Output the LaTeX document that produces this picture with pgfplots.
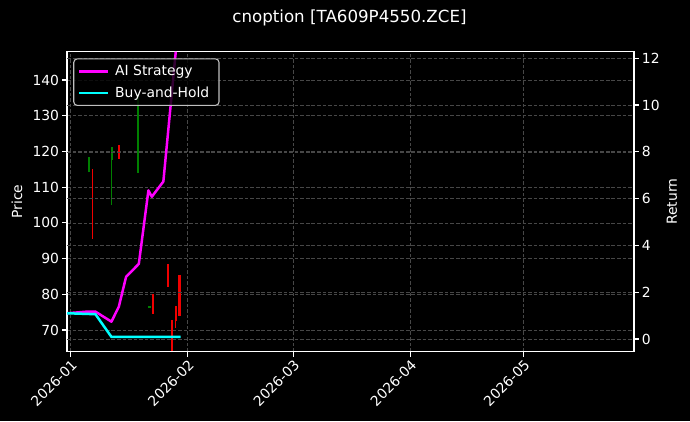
\documentclass[border=0pt]{standalone}
\usepackage{pgfplots}
\pgfplotsset{compat=1.18}
\usepackage{fontspec}
\setmainfont{DejaVu Sans}
\definecolor{gridc}{gray}{0.28}
\definecolor{candlegreen}{HTML}{008000}
\definecolor{candlered}{HTML}{F00000}
\definecolor{legedge}{gray}{0.75}
\definecolor{aimag}{RGB}{255,0,255}
\definecolor{bhcyan}{RGB}{0,255,255}
\begin{document}
\begin{tikzpicture}
\fill[black] (0,0) rectangle (496.8pt,303.12pt);
\useasboundingbox (0,0) rectangle (496.8pt,303.12pt);
\pgfplotsset{
  myaxis/.style={
    at={(48.24pt,49.90pt)}, anchor=south west,
    scale only axis, width=408.24pt, height=216pt,
    xmin=-0.93, xmax=149.3,
    tick align=outside, major tick length=3.5pt,
    axis line style={white, line width=0.8pt},
    tick style={white, line width=0.8pt},
    major grid style={gridc, line width=0.45pt, dash pattern=on 2.6pt off 1.4pt},
    ticklabel style={font=\fontsize{10}{12}\selectfont, text=white},
    /pgf/number format/assume math mode=true,
    unbounded coords=jump,
    clip=true,
  }
}
% price axis (candles)
\begin{axis}[myaxis,
  ymin=63.92, ymax=147.92,
  xtick={0,31,59,90,120},
  xticklabels={2026-01,2026-02,2026-03,2026-04,2026-05},
  ytick={70,80,90,100,110,120,130,140},
  xtick pos=bottom, ytick pos=left,
  xmajorgrids, ymajorgrids,
  xticklabel style={rotate=45, anchor=north east, inner sep=1pt},
  yticklabel style={inner sep=2pt},
]
% wicks / thin candles
\addplot[draw=candlegreen, line width=0.8pt, forget plot] coordinates {
 (10.9,105.0) (10.9,117.6)
};
\addplot[draw=candlered, line width=0.9pt, forget plot] coordinates {
 (5.9,115.1) (5.9,95.5)
 (5.9,nan)
 (27.9,72.6) (27.9,70.5)
};
% green bodies
\addplot[draw=candlegreen, line width=1.6pt, forget plot] coordinates {
 (4.9,114.2) (4.9,118.3)
 (4.9,nan)
 (10.9,117.6) (10.9,121.3)
 (10.9,nan)
 (17.9,114.0) (17.9,136.0)
 (17.9,nan)
 (20.9,76.1) (20.9,76.8)
};
% red bodies
\addplot[draw=candlered, line width=1.6pt, forget plot] coordinates {
 (12.9,121.8) (12.9,117.9)
 (12.9,nan)
 (21.9,80.0) (21.9,74.4)
 (21.9,nan)
 (25.9,88.4) (25.9,82.1)
 (25.9,nan)
 (26.9,72.8) (26.9,64.0)
 (26.9,nan)
 (27.9,76.7) (27.9,72.6)
 (27.9,nan)
 (28.9,85.4) (28.9,74.0)
};
\end{axis}
% return axis (lines)
\begin{axis}[myaxis,
  ymin=-0.543, ymax=12.28,
  axis x line=none, axis y line*=right,
  clip=true,
  ytick={0,2,4,6,8,10,12},
  ymajorgrids,
  yticklabel style={inner sep=2pt},
]
\addplot[aimag, line width=1.8pt, line join=round] coordinates {
 (-0.93,1.10) (4.4,1.17) (6.6,1.17) (10.84,0.74) (12.8,1.38) (14.73,2.66)
 (18.1,3.21) (20.64,6.35) (21.54,6.08) (24.6,6.73) (27.89,12.28)
};
\addplot[bhcyan, line width=1.8pt, line join=round] coordinates {
 (-0.93,1.10) (6.6,1.06) (10.84,0.09) (29.2,0.09)
};
\end{axis}
% legend-only axis, drawn on top
\begin{axis}[myaxis,
  ymin=0, ymax=1, hide axis,
  legend cell align=left,
  legend style={at={(0.011,0.978)}, anchor=north west,
    fill=black, fill opacity=0.8, draw opacity=1, text opacity=1,
    draw=legedge, line width=0.8pt, text=white, rounded corners=2.5pt,
    font=\fontsize{10}{12}\selectfont, inner xsep=3pt, inner ysep=2.5pt,
    row sep=2.5pt, nodes={inner xsep=4pt}},
  legend image code/.code={\draw[#1] (0pt,0pt) -- (21pt,0pt);},
]
\addlegendimage{aimag, line width=1.8pt}
\addlegendentry{AI Strategy}
\addlegendimage{bhcyan, line width=1.8pt}
\addlegendentry{Buy-and-Hold}
\end{axis}
\node[text=white, font=\fontsize{12}{14}\selectfont] at (251.6pt,290.2pt) {cnoption [TA609P4550.ZCE]};
\node[text=white, rotate=90, font=\fontsize{10}{12}\selectfont] at (12.2pt,157.9pt) {Price};
\node[text=white, rotate=90, font=\fontsize{10}{12}\selectfont] at (483.8pt,157.9pt) {Return};
\end{tikzpicture}
\end{document}
